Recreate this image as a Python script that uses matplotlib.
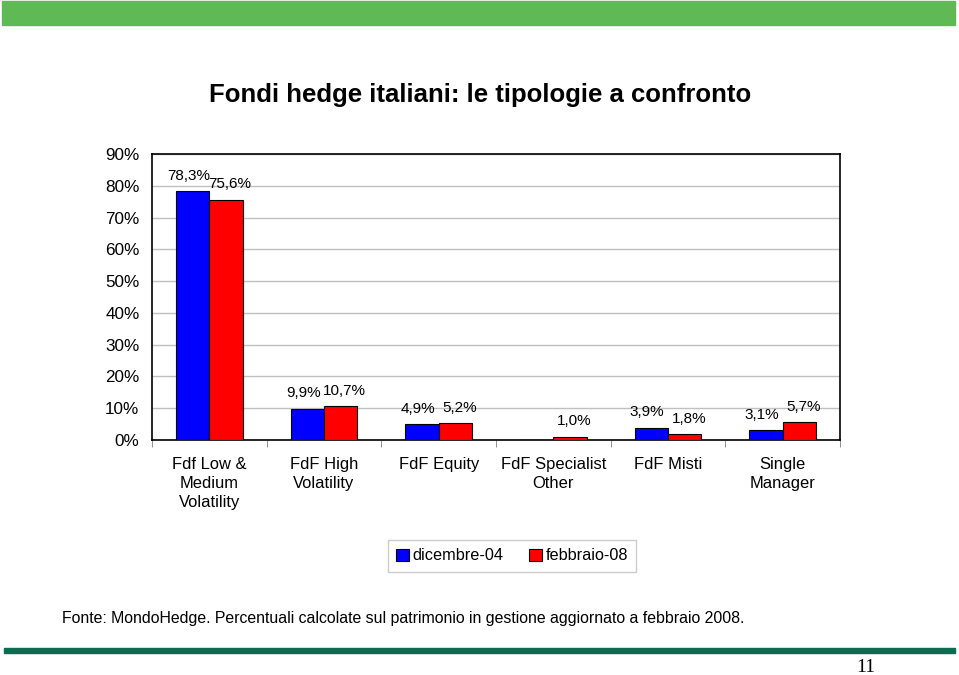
import numpy as np
import matplotlib.pyplot as plt
from matplotlib.patches import Rectangle

plt.rcParams['font.family'] = ['Liberation Sans', 'DejaVu Sans']

categorie = ['Fdf Low &\nMedium\nVolatility', 'FdF High\nVolatility', 'FdF Equity',
             'FdF Specialist\nOther', 'FdF Misti', 'Single\nManager']
dic04 = [78.3, 9.9, 4.9, 0.0, 3.9, 3.1]
feb08 = [75.6, 10.7, 5.2, 1.0, 1.8, 5.7]
etichette_dic = ['78,3%', '9,9%', '4,9%', '', '3,9%', '3,1%']
etichette_feb = ['75,6%', '10,7%', '5,2%', '1,0%', '1,8%', '5,7%']
serie = ['dicembre-04', 'febbraio-08']

fig = plt.figure(figsize=(9.59, 6.75), dpi=100)

# fasce verdi in alto e in basso
fig.patches.append(Rectangle((2/959, 1 - 25/675), 953/959, 24/675, transform=fig.transFigure,
                             color='#5fba55', zorder=0))
fig.patches.append(Rectangle((4/959, 1 - 653/675), 951/959, 5/675, transform=fig.transFigure,
                             color='#0e6a50', zorder=0))

ax = fig.add_axes([152/959, 1 - 440/675, 688/959, 286/675])

x = np.arange(len(categorie))
w = 0.29
b1 = ax.bar(x - w/2, dic04, w, color='#0000ff', edgecolor='black', linewidth=0.8,
            label=serie[0], zorder=3)
b2 = ax.bar(x + w/2, feb08, w, color='#ff0000', edgecolor='black', linewidth=0.8,
            label=serie[1], zorder=3)

# etichette: blu un po' a sinistra, rosse un po' a destra
for rect, lab in zip(b1, etichette_dic):
    if lab:
        ax.annotate(lab, (rect.get_x() + rect.get_width()/2, rect.get_height()),
                    xytext=(-3, 6), textcoords='offset points', ha='center', va='bottom',
                    fontsize=11)
for rect, lab in zip(b2, etichette_feb):
    ax.annotate(lab, (rect.get_x() + rect.get_width()/2, rect.get_height()),
                xytext=(3, 6), textcoords='offset points', ha='center', va='bottom',
                fontsize=11)

ax.set_xlim(-0.5, len(categorie) - 0.5)
ax.set_ylim(0, 90)
ax.set_yticks(np.arange(0, 91, 10))
ax.set_yticklabels([f'{v}%' for v in range(0, 91, 10)], fontsize=12.3)
ax.yaxis.grid(True, color='#c0c0c0', linewidth=1, zorder=0)
ax.tick_params(axis='y', length=0, pad=9)

ax.set_xticks(x)
ax.set_xticklabels(categorie, fontsize=11.9, va='top', linespacing=1.35)
ax.tick_params(axis='x', length=0, pad=12)
ax.set_xticks(np.arange(-0.5, len(categorie), 1), minor=True)
ax.tick_params(axis='x', which='minor', length=5, direction='out', color='#808080')

for s in ax.spines.values():
    s.set_linewidth(1.2)
    s.set_color('black')

ax.legend(loc='center', bbox_to_anchor=(512/959, 1 - 556/675), bbox_transform=fig.transFigure,
          ncol=2, fontsize=11.7, frameon=True, fancybox=False, edgecolor='#c0c0c0',
          handlelength=0.8, handleheight=0.8, columnspacing=1.6, handletextpad=0.2,
          borderpad=0.5)

fig.text(480/959, 1 - 95/675, 'Fondi hedge italiani: le tipologie a confronto',
         ha='center', va='center', fontsize=18.5, fontweight='bold')
fig.text(62/959, 1 - 618/675,
         'Fonte: MondoHedge. Percentuali calcolate sul patrimonio in gestione aggiornato a febbraio 2008.',
         ha='left', va='center', fontsize=11.4)
fig.text(866/959, 1 - 668/675, '11', ha='center', va='center', fontsize=14,
         family=['Liberation Serif', 'DejaVu Serif'])

fig.savefig('out.png', dpi=100)
